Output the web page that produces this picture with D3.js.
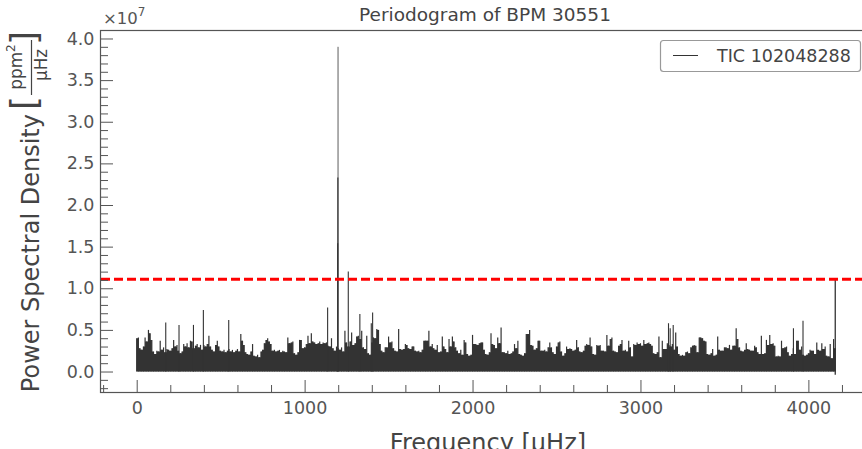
<!DOCTYPE html>
<html>
<head>
<meta charset="utf-8">
<script src="https://cdn.jsdelivr.net/npm/d3@7"></script>
<style>
  body { margin: 0; background: #fff; }
  svg { display: block; font-family: "DejaVu Sans", sans-serif; }
</style>
</head>
<body>
<svg width="862" height="449"></svg>
<script>
// periodogram envelope, one value every 10 uHz from 0 to 4160, in units of 1e6 ppm^2/uHz
var freqStart = 0, freqStep = 10;
var psd = [
  4.0, 4.1, 2.8, 2.6, 3.0, 4.1, 3.6, 5.0, 4.6, 3.8,
  2.4, 2.1, 2.5, 2.4, 3.7, 2.6, 2.9, 2.3, 2.7, 2.6,
  2.5, 2.8, 3.8, 3.0, 3.2, 2.5, 2.2, 2.4, 3.3, 3.0,
  3.4, 2.9, 3.7, 3.6, 2.8, 3.1, 3.3, 2.9, 3.2, 2.6,
  3.2, 3.0, 3.3, 4.3, 3.0, 2.6, 2.4, 3.2, 3.7, 3.0,
  2.5, 2.4, 2.6, 2.3, 2.5, 2.7, 2.4, 2.6, 2.3, 2.5,
  2.7, 2.4, 4.5, 3.7, 3.2, 2.3, 2.1, 2.0, 2.4, 3.3,
  1.9, 1.8, 2.0, 1.7, 2.4, 2.6, 3.4, 3.8, 4.0, 3.6,
  3.3, 2.5, 2.6, 2.4, 2.5, 2.6, 2.3, 2.5, 2.4, 2.3,
  4.1, 3.4, 3.5, 3.6, 2.2, 2.0, 2.3, 3.8, 3.8, 2.8,
  2.9, 3.3, 4.3, 3.4, 4.6, 3.6, 3.5, 3.3, 3.4, 3.6,
  3.3, 3.5, 3.4, 3.5, 3.1, 3.0, 4.0, 2.8, 2.5, 3.0,
  2.8, 2.6, 2.9, 2.4, 4.9, 3.5, 3.0, 3.6, 4.7, 3.2,
  3.4, 4.2, 4.3, 3.9, 4.9, 2.9, 2.7, 4.3, 2.2, 2.0,
  3.5, 4.1, 4.0, 5.1, 5.0, 3.3, 2.5, 2.3, 2.9, 2.9,
  4.2, 3.5, 3.6, 2.8, 2.5, 2.4, 5.1, 2.7, 2.6, 2.7,
  3.3, 3.2, 2.8, 2.7, 3.0, 3.0, 2.5, 2.4, 2.5, 2.3,
  2.6, 3.7, 3.7, 3.7, 4.9, 3.0, 3.3, 2.8, 2.6, 3.2,
  2.3, 2.4, 4.2, 3.0, 2.7, 2.3, 3.9, 3.0, 4.2, 3.6,
  2.9, 2.5, 2.2, 2.6, 2.0, 3.8, 3.5, 2.1, 1.9, 2.0,
  4.4, 3.3, 3.3, 3.2, 3.4, 3.5, 3.5, 2.6, 2.1, 2.0,
  2.3, 4.6, 3.3, 3.2, 2.8, 4.1, 3.4, 5.3, 2.3, 2.3,
  2.2, 2.5, 2.1, 2.2, 2.4, 3.3, 2.8, 3.7, 2.1, 2.0,
  1.9, 2.2, 4.5, 4.5, 5.0, 3.2, 3.1, 2.6, 2.8, 3.7,
  3.7, 2.5, 2.5, 2.6, 2.4, 2.9, 3.5, 2.9, 2.3, 2.1,
  3.0, 3.5, 3.6, 2.4, 1.9, 2.2, 3.0, 2.7, 2.8, 2.7,
  2.5, 2.6, 3.8, 2.9, 2.4, 2.3, 2.5, 3.1, 3.3, 3.2,
  4.1, 3.0, 2.1, 2.0, 3.2, 3.1, 3.2, 2.5, 2.5, 2.4,
  4.4, 3.1, 3.9, 4.1, 2.5, 2.4, 2.3, 3.1, 3.3, 3.8,
  2.5, 2.6, 2.4, 3.7, 2.9, 1.8, 3.3, 3.2, 3.5, 3.3,
  3.4, 3.1, 3.8, 3.3, 3.4, 3.5, 3.3, 3.1, 2.2, 2.1,
  2.3, 4.2, 1.7, 3.7, 2.7, 2.7, 3.4, 3.2, 3.0, 3.3,
  2.6, 4.7, 3.0, 2.1, 1.9, 2.0, 1.9, 2.3, 2.4, 2.2,
  2.9, 3.1, 3.2, 3.1, 2.3, 4.1, 4.1, 4.0, 3.7, 3.6,
  2.1, 2.0, 2.2, 2.7, 1.9, 2.0, 4.2, 2.6, 2.5, 2.5,
  2.9, 2.9, 2.8, 3.2, 2.6, 3.1, 3.1, 5.2, 3.9, 2.9,
  2.5, 2.4, 2.6, 3.4, 2.7, 2.6, 2.5, 2.5, 3.1, 2.9,
  2.3, 2.1, 4.3, 2.1, 2.2, 3.8, 3.2, 4.4, 3.3, 3.4,
  3.1, 1.8, 1.9, 1.8, 3.7, 2.8, 2.9, 3.0, 2.3, 1.9,
  2.1, 2.8, 2.1, 3.7, 3.7, 2.6, 3.0, 2.0, 1.9, 2.0,
  2.2, 2.6, 2.5, 2.5, 2.1, 3.5, 2.6, 2.5, 3.4, 2.7,
  3.0, 1.9, 1.8, 3.3, 1.6, 3.9, 2.8
];

// narrow peaks standing above the noise (uHz, 1e6 ppm^2/uHz)
var spikeFreq  = [173, 252, 338, 397, 548, 1137, 1197, 1198, 1199, 1260, 1329, 1397, 1405, 3167, 3177, 3195, 3911, 3968];
var spikePower = [5.9, 5.6, 5.6, 7.4, 6.2, 7.7, 15.4, 23.3, 39.0, 12.0, 6.9, 5.8, 7.1, 5.8, 5.2, 5.6, 5.2, 6.1];

// last bin at the Nyquist edge
var edgeFreq = 4160, edgePower = [-0.4, 11.0];

var threshold = 11.08;

var xTicks = [0, 1000, 2000, 3000, 4000];
var yTicks = [0, 5, 10, 15, 20, 25, 30, 35, 40];

var svg = d3.select("svg"),
    mLeft = 101, mRight = 869, mTop = 31, mBottom = 392,
    spineColor = "#555", textColor = "#444", lineColor = "#333";

var x = d3.scaleLinear().domain([-212.6, 4361]).range([mLeft, mRight]);
var y = d3.scaleLinear().domain([-2.46, 40.9]).range([mBottom, mTop]);

svg.append("clipPath").attr("id", "plot")
  .append("rect")
    .attr("x", mLeft).attr("y", mTop)
    .attr("width", mRight - mLeft).attr("height", mBottom - mTop);

var plot = svg.append("g").attr("clip-path", "url(#plot)");

// each bin drawn as a thin vertical stroke, like the dense periodogram line
plot.selectAll(".bin")
  .data(psd)
  .enter().append("line")
    .attr("class", "bin")
    .attr("x1", function(d, i) { return x(freqStart + i * freqStep); })
    .attr("x2", function(d, i) { return x(freqStart + i * freqStep); })
    .attr("y1", y(0))
    .attr("y2", function(d) { return y(d); })
    .attr("stroke", lineColor)
    .attr("stroke-width", 1.2);

// solid floor under the bins
var area = d3.area()
    .curve(d3.curveStepAfter)
    .x(function(d, i) { return x(freqStart + i * freqStep); })
    .y0(y(0))
    .y1(function(d, i) { return y(Math.min(d, psd[i + 1] === undefined ? d : psd[i + 1])); });

plot.append("path")
    .datum(psd)
    .attr("d", area)
    .attr("fill", lineColor);

plot.selectAll(".spike")
  .data(spikeFreq)
  .enter().append("line")
    .attr("class", "spike")
    .attr("x1", function(d) { return x(d); })
    .attr("x2", function(d) { return x(d); })
    .attr("y1", y(0))
    .attr("y2", function(d, i) { return y(spikePower[i]); })
    .attr("stroke", lineColor)
    .attr("stroke-width", function(d, i) { return spikePower[i] > 30 ? 0.8 : 1.1; });

plot.append("line")
    .attr("x1", x(edgeFreq)).attr("x2", x(edgeFreq))
    .attr("y1", y(edgePower[0])).attr("y2", y(edgePower[1]))
    .attr("stroke", lineColor)
    .attr("stroke-width", 1.3);

// detection threshold
plot.append("line")
    .attr("x1", mLeft).attr("x2", mRight)
    .attr("y1", y(threshold)).attr("y2", y(threshold))
    .attr("stroke", "#ff0000")
    .attr("stroke-width", 3)
    .attr("stroke-dasharray", "9,4");

// axes, ticks pointing inward
function styleAxis(g) {
  g.select(".domain").remove();
  g.selectAll(".tick line").attr("stroke", spineColor);
  g.selectAll(".tick text").attr("fill", "#555").attr("font-size", "17.5px")
    .attr("font-family", "DejaVu Sans, sans-serif");
}

var yMinor = d3.range(-2, 41, 1).filter(function(d) { return d % 5 !== 0; });
var xMinor = d3.range(-200, 4400, 200).filter(function(d) { return d % 1000 !== 0; });

svg.append("g")
    .attr("transform", "translate(" + mLeft + ",0)")
    .call(d3.axisLeft(y).tickValues(yMinor).tickSize(-7).tickFormat(""))
    .call(styleAxis);

svg.append("g")
    .attr("transform", "translate(" + mLeft + ",0)")
    .call(d3.axisLeft(y).tickValues(yTicks).tickSize(-12).tickPadding(6.5)
      .tickFormat(function(d) { return (d / 10).toFixed(1); }))
    .call(styleAxis);

svg.append("g")
    .attr("transform", "translate(0," + mBottom + ")")
    .call(d3.axisBottom(x).tickValues(xMinor).tickSize(-7).tickFormat(""))
    .call(styleAxis);

svg.append("g")
    .attr("transform", "translate(0," + mBottom + ")")
    .call(d3.axisBottom(x).tickValues(xTicks).tickSize(-12).tickPadding(9.4)
      .tickFormat(d3.format("d")))
    .call(styleAxis);

// spines
svg.append("rect")
    .attr("x", mLeft - 0.5).attr("y", mTop - 0.5)
    .attr("width", mRight - mLeft).attr("height", mBottom - mTop + 1)
    .attr("fill", "none")
    .attr("stroke", spineColor)
    .attr("stroke-width", 1.2);

// offset text
var off = svg.append("text")
    .attr("x", 103).attr("y", 24)
    .attr("fill", "#555").attr("font-size", "16.5px");
off.append("tspan").text("\u00d710");
off.append("tspan").attr("font-size", "12px").attr("dy", -8).text("7");

// title
svg.append("text")
    .attr("x", 485).attr("y", 20.5)
    .attr("text-anchor", "middle")
    .attr("fill", textColor)
    .attr("font-size", "18.5px")
    .text("Periodogram of BPM 30551");

// x label
svg.append("text")
    .attr("x", 488).attr("y", 451)
    .attr("text-anchor", "middle")
    .attr("fill", textColor)
    .attr("font-size", "24px")
    .text("Frequency [\u03bcHz]");

// y label with fraction
var yl = svg.append("g").attr("transform", "translate(39,0) rotate(-90)");
yl.append("text")
    .attr("x", -114).attr("y", 0)
    .attr("text-anchor", "end")
    .attr("fill", textColor).attr("font-size", "24px")
    .text("Power Spectral Density");
yl.append("text")
    .attr("x", -110).attr("y", -3)
    .attr("fill", textColor).attr("font-size", "36px")
    .text("[");
yl.append("text")
    .attr("x", -31).attr("y", -3)
    .attr("text-anchor", "end")
    .attr("fill", textColor).attr("font-size", "36px")
    .text("]");
var num = yl.append("text")
    .attr("x", -67).attr("y", -17)
    .attr("text-anchor", "middle")
    .attr("fill", textColor).attr("font-size", "16.8px");
num.append("tspan").text("ppm");
num.append("tspan").attr("font-size", "12px").attr("dy", -7).text("2");
yl.append("line")
    .attr("x1", -95).attr("x2", -40)
    .attr("y1", -7.5).attr("y2", -7.5)
    .attr("stroke", textColor).attr("stroke-width", 1.2);
yl.append("text")
    .attr("x", -65).attr("y", 8)
    .attr("text-anchor", "middle")
    .attr("fill", textColor).attr("font-size", "16.8px")
    .text("\u03bcHz");

// legend
var lg = svg.append("g");
lg.append("rect")
    .attr("x", 660.5).attr("y", 40.5)
    .attr("width", 200).attr("height", 31)
    .attr("rx", 3)
    .attr("fill", "#fff").attr("fill-opacity", 0.8)
    .attr("stroke", "#999").attr("stroke-width", 1.2);
lg.append("line")
    .attr("x1", 673).attr("x2", 698)
    .attr("y1", 55.5).attr("y2", 55.5)
    .attr("stroke", lineColor).attr("stroke-width", 1);
lg.append("text")
    .attr("x", 717).attr("y", 62)
    .attr("fill", textColor).attr("font-size", "17.5px")
    .text("TIC 102048288");
</script>
</body>
</html>
